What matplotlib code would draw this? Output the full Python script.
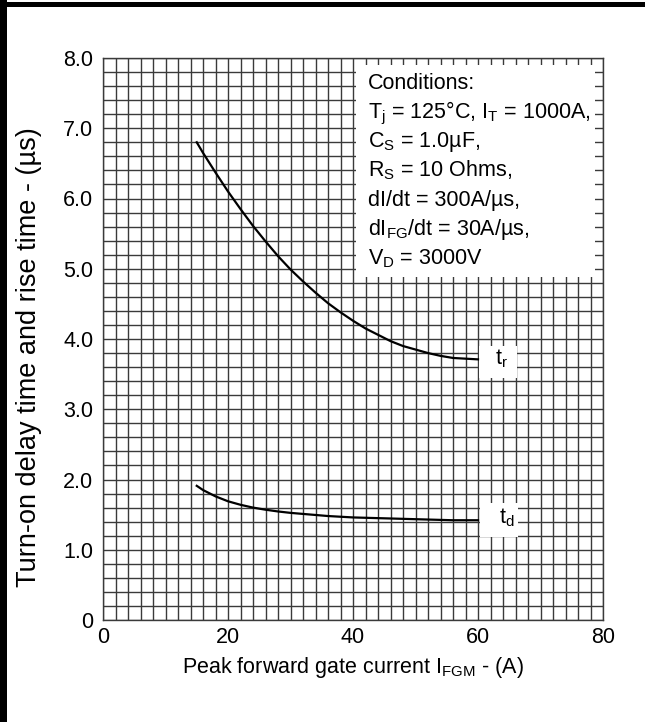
import numpy as np
import matplotlib.pyplot as plt
from matplotlib.patches import Rectangle

plt.rcParams['font.family'] = ['Liberation Sans', 'DejaVu Sans']
plt.rcParams['mathtext.fontset'] = 'custom'
plt.rcParams['mathtext.rm'] = 'Liberation Sans'
plt.rcParams['mathtext.it'] = 'Liberation Sans'

# peak forward gate current (A) vs rise time t_r (us)
ifgm_tr = [15, 16, 18, 20, 22, 24, 26, 28, 30, 32, 34, 36, 38, 40, 42, 44,
           46, 48, 50, 52, 54, 56, 58, 60]
t_r = [6.80, 6.65, 6.37, 6.10, 5.85, 5.61, 5.39, 5.18, 4.99, 4.82, 4.66, 4.51,
       4.38, 4.26, 4.15, 4.06, 3.97, 3.90, 3.85, 3.80, 3.76, 3.73, 3.72, 3.71]

# peak forward gate current (A) vs delay time t_d (us)
ifgm_td = [15, 16, 18, 20, 22, 24, 26, 28, 30, 32, 34, 36, 38, 40, 44, 48,
           52, 56, 60]
t_d = [1.91, 1.85, 1.76, 1.69, 1.64, 1.60, 1.57, 1.545, 1.525, 1.51, 1.495,
       1.48, 1.47, 1.46, 1.45, 1.44, 1.43, 1.42, 1.42]

x_ticks = [0, 20, 40, 60, 80]
y_ticks = [0, 1, 2, 3, 4, 5, 6, 7, 8]
y_ticklabels = ['0', '1.0', '2.0', '3.0', '4.0', '5.0', '6.0', '7.0', '8.0']

conditions = ['Conditions:',
              r'T$_\mathregular{j}$ = 125°C, I$_\mathregular{T}$ = 1000A,',
              r'C$_\mathregular{S}$ = 1.0µF,',
              r'R$_\mathregular{S}$ = 10 Ohms,',
              'dI/dt = 300A/µs,',
              r'dI$_\mathregular{FG}$/dt = 30A/µs,',
              r'V$_\mathregular{D}$ = 3000V']

fs = 15.5
gridc = '#3a3a3a'

fig = plt.figure(figsize=(6.45, 7.22), dpi=100)
ax = fig.add_axes([103/645, 1-620/722, 500/645, 562/722])

ax.set_xlim(0, 80)
ax.set_ylim(0, 8)
ax.set_xticks(np.arange(0, 81, 2), minor=True)
ax.set_yticks(np.arange(0, 8.01, 0.2), minor=True)
ax.set_xticks(x_ticks)
ax.set_yticks(y_ticks)
ax.set_yticklabels(y_ticklabels)
ax.grid(True, which='both', color=gridc, lw=1.0)
ax.set_axisbelow(True)
ax.tick_params(which='both', length=0, labelsize=fs)
ax.tick_params(axis='y', pad=7)
ax.tick_params(axis='x', pad=5)
for sp in ax.spines.values():
    sp.set_color(gridc)
    sp.set_linewidth(1.0)

ax.plot(ifgm_tr, t_r, color='black', lw=1.6, zorder=3)
ax.plot(ifgm_td, t_d, color='black', lw=1.6, zorder=3)

# conditions box
ax.add_patch(Rectangle((40.5, 4.88), 38.2, 3.02, facecolor='white',
                       edgecolor='none', zorder=2))
y0 = 7.564
for i, line in enumerate(conditions):
    ax.text(42.4, y0 - i*0.418, line, fontsize=fs, va='baseline', ha='left',
            zorder=4)

# curve labels
ax.add_patch(Rectangle((60.2, 3.45), 6.0, 0.45, facecolor='white',
                       edgecolor='none', zorder=2))
ax.add_patch(Rectangle((60.3, 1.18), 6.1, 0.49, facecolor='white',
                       edgecolor='none', zorder=2))
ax.text(63.8, 3.72, r't$_\mathregular{r}$', fontsize=fs, ha='center',
        va='center', zorder=4)
ax.text(64.6, 1.45, r't$_\mathregular{d}$', fontsize=fs, ha='center',
        va='center', zorder=4)

ax.set_xlabel(r'Peak forward gate current I$_\mathregular{FGM}$ - (A)',
              fontsize=fs)
ax.set_ylabel('Turn-on delay time and rise time - (µs)', fontsize=19.5)
ax.xaxis.set_label_coords(0.5, -0.062)
ax.yaxis.set_label_coords(-0.122, 0.468)

# frame lines on the left and top of the image
fig.add_artist(Rectangle((0, 0), 7/645, 1, transform=fig.transFigure,
                         facecolor='black', edgecolor='none'))
fig.add_artist(Rectangle((0, 1-7/722), 1, 5/722, transform=fig.transFigure,
                         facecolor='black', edgecolor='none'))

plt.savefig('out.png', dpi=100)
